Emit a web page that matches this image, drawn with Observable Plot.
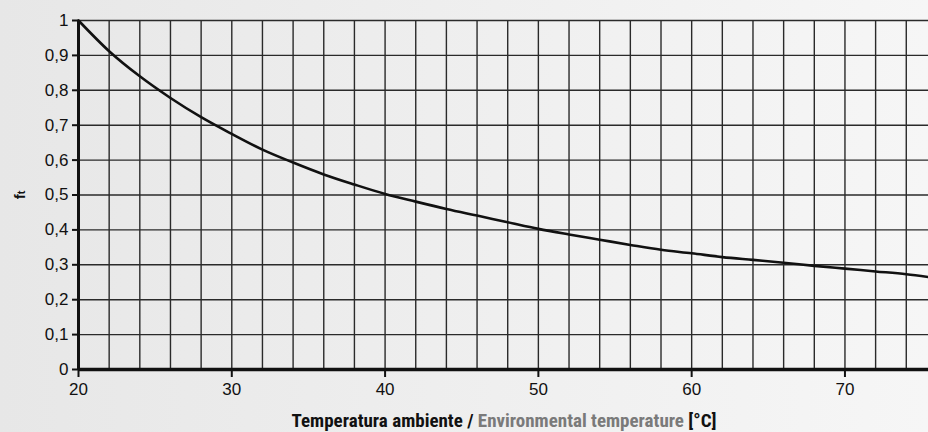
<!DOCTYPE html>
<html>
<head>
<meta charset="utf-8">
<script src="https://cdn.jsdelivr.net/npm/d3@7"></script>
<script src="https://cdn.jsdelivr.net/npm/@observablehq/plot@0.6"></script>
<style>
  html, body { margin: 0; padding: 0; }
  body { width: 928px; height: 432px; background: linear-gradient(to right, #e7e7e7, #f6f6f6); overflow: hidden; }
  svg { display: block; }
</style>
</head>
<body>
<div id="chart"></div>
<script>
// Data
const temps = [20, 22, 24, 26, 28, 30, 32, 34, 36, 38, 40, 42, 44, 46, 48, 50, 52, 54, 56, 58, 60, 62, 64, 66, 68, 70, 72, 74, 75.45];
const ft    = [1.0, 0.912, 0.840, 0.778, 0.723, 0.675, 0.630, 0.593, 0.559, 0.530, 0.503, 0.481, 0.460, 0.441, 0.422, 0.403, 0.387, 0.372, 0.357, 0.343, 0.333, 0.322, 0.314, 0.306, 0.297, 0.289, 0.281, 0.273, 0.265];
const xTicks = [20, 30, 40, 50, 60, 70];
const xGrid = [20, 22, 24, 26, 28, 30, 32, 34, 36, 38, 40, 42, 44, 46, 48, 50, 52, 54, 56, 58, 60, 62, 64, 66, 68, 70, 72, 74];
const yTicks = [0, 0.1, 0.2, 0.3, 0.4, 0.5, 0.6, 0.7, 0.8, 0.9, 1];
const yLabel = ["f", "t"];
const titleParts = ["Temperatura ambiente / ", "Environmental temperature", " [°C]"];

const data = temps.map((t, i) => ({t, f: ft[i]}));
const fmtY = d => (d === 0 || d === 1) ? String(d) : d3.format(".1f")(d).replace(".", ",");

const plot = Plot.plot({
  width: 928,
  height: 432,
  marginLeft: 78,
  marginRight: 0,
  marginTop: 20,
  marginBottom: 63,
  style: {background: "transparent", fontFamily: "'Liberation Sans', Arial, sans-serif", color: "#111"},
  x: {domain: [20, 75.45]},
  y: {domain: [0, 1]},
  marks: [
    Plot.ruleX(xGrid, {stroke: "#2a2a2a", strokeWidth: 1.4}),
    Plot.ruleY(yTicks, {stroke: "#2a2a2a", strokeWidth: 1.4}),
    Plot.line(data, {x: "t", y: "f", stroke: "#111", strokeWidth: 2.6, curve: "monotone-x"}),
    Plot.ruleX([20], {stroke: "#111", strokeWidth: 3}),
    Plot.ruleY([0], {stroke: "#111", strokeWidth: 3.5}),
    Plot.axisX({ticks: xTicks, tickSize: 8, tickPadding: 5, strokeWidth: 2, fontSize: 17, label: null, fill: "#111"}),
    Plot.axisY({ticks: yTicks, tickSize: 6, tickPadding: 4, strokeWidth: 2, fontSize: 17, tickFormat: fmtY, label: null, fill: "#111"})
  ]
});

document.getElementById("chart").appendChild(plot);

const svg = d3.select(plot);
// x axis title
const title = svg.append("text")
  .attr("x", 504)
  .attr("y", 427)
  .attr("text-anchor", "middle")
  .style("font-family", "'Liberation Sans Narrow', 'Roboto Condensed', 'Liberation Sans', sans-serif")
  .style("font-weight", "bold")
  .style("font-size", "19px");
title.append("tspan").attr("fill", "#111").text(titleParts[0]);
title.append("tspan").attr("fill", "#7a7a7a").text(titleParts[1]);
title.append("tspan").attr("fill", "#111").text(titleParts[2]);

// y axis title
const yl = svg.append("text")
  .attr("transform", "translate(25,195) rotate(-90)")
  .attr("text-anchor", "middle")
  .style("font-family", "'Liberation Sans Narrow', 'Liberation Sans', sans-serif")
  .style("font-weight", "bold")
  .style("font-size", "15px")
  .attr("fill", "#111");
yl.append("tspan").text(yLabel[0]);
yl.append("tspan").attr("font-size", "11px").text(yLabel[1]);
</script>
</body>
</html>
